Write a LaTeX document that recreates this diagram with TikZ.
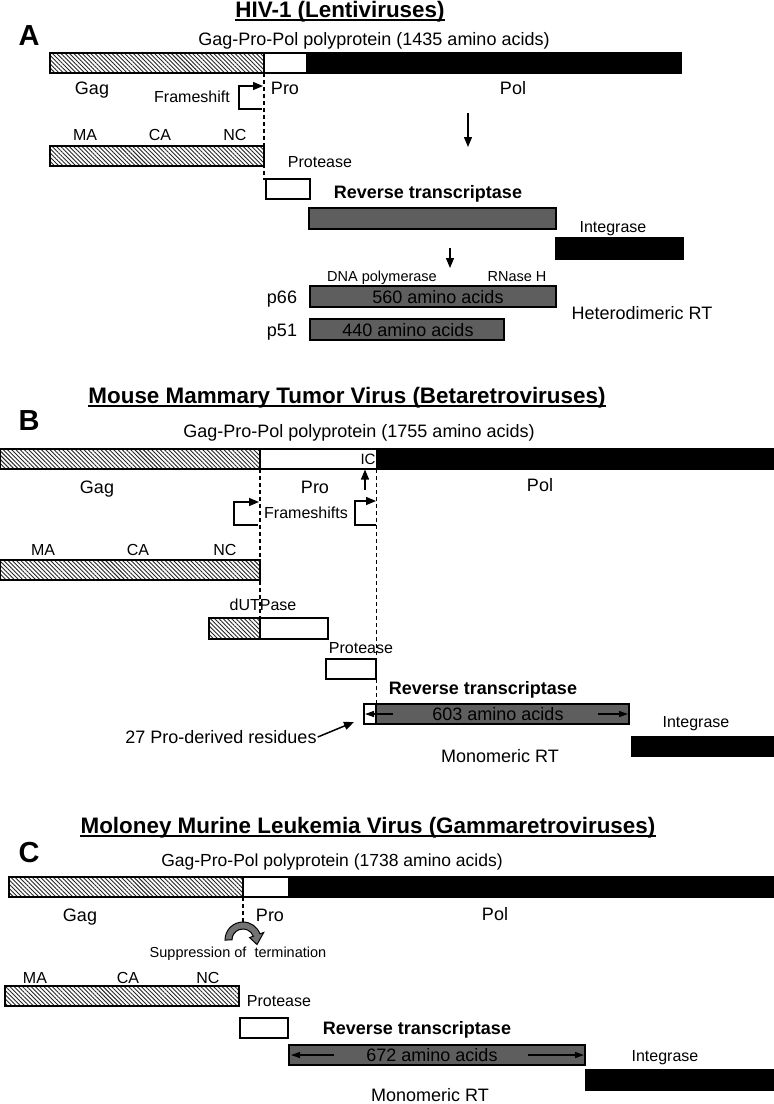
\documentclass[tikz,border=0pt]{standalone}
\usepackage{fontspec}
\setmainfont{Liberation Sans}
\usetikzlibrary{arrows.meta,patterns.meta,calc}
\begin{document}
\begin{tikzpicture}[x=1pt,y=-1pt,
  t/.style={inner sep=0pt, text height=12.9pt, text depth=0pt, font=\fontsize{18}{20}\selectfont},
  tsub/.style={inner sep=0pt, text height=12.5pt, text depth=0pt, font=\fontsize{17.5}{20}\selectfont},
  ts/.style={inner sep=0pt, text height=11.5pt, text depth=0pt, font=\fontsize{16}{18}\selectfont},
  txs/.style={inner sep=0pt, text height=10.4pt, text depth=0pt, font=\fontsize{14.5}{16}\selectfont},
  tic/.style={inner sep=0pt, text height=10.7pt, text depth=0pt, font=\fontsize{15}{16}\selectfont},
  tb/.style={inner sep=0pt, text height=12.9pt, text depth=0pt, font=\bfseries\fontsize{18}{20}\selectfont},
  ttl/.style={inner sep=0pt, text height=16pt, text depth=0pt, font=\bfseries\fontsize{22.4}{24}\selectfont},
  pnl/.style={inner sep=0pt, text height=20.8pt, text depth=0pt, font=\bfseries\fontsize{29}{30}\selectfont},
  uline/.style={line width=1.8pt},
  hatch/.style={draw=black, line width=1.3pt, pattern={Lines[angle=-45,distance=3pt,line width=0.9pt]}, pattern color=black!85},
  wbox/.style={draw=black, line width=1.3pt, fill=white},
  bbox/.style={draw=black, line width=1.3pt, fill=black},
  gbox/.style={draw=black, line width=1.3pt, fill=black!63},
  dsh/.style={line width=1.2pt, dash pattern=on 4pt off 3pt},
  dar/.style={line width=1.3pt, -{Triangle[length=10pt,width=8pt]}},
  brk/.style={line width=1.3pt, -{Triangle[length=10pt,width=8pt]}},
  inar/.style={line width=1.3pt, -{Triangle[length=9pt,width=6pt]}},
  curv/.style={draw=black, line width=1pt, fill=black!55}
]
\useasboundingbox[fill=white] (0,0) rectangle (774,1104);

% ================= Panel A =================
\node[pnl] (lA) at (29,35) {A};
\node[ttl] (tA) at (340,9.5) {HIV-1 (Lentiviruses)};
\draw[uline] ($(tA.south west)+(0,2.5)$) -- ($(tA.south east)+(0,2.5)$);
\node[t] (sA) at (374,39) {Gag-Pro-Pol polyprotein (1435 amino acids)};
\draw[hatch] (50,53) rectangle (264,73);
\draw[wbox] (264,53) rectangle (307,73);
\draw[bbox] (307,53) rectangle (681,73);
\node[t] (gagA) at (92,88) {Gag};
\node[t] (proA) at (285,88) {Pro};
\node[t] (polA) at (513,88) {Pol};
\node[ts] (fsA) at (192,97) {Frameshift};
\coordinate (fa1) at (262,109);
\coordinate (fa2) at (239,109);
\coordinate (fa3) at (239,86);
\coordinate (fa4) at (263,86);
\draw[brk] (fa1) -- (fa2) -- (fa3) -- (fa4);
\draw[dsh] (264,73) -- (264,180);
\coordinate (da1) at (468,113);
\coordinate (da2) at (468,147);
\draw[dar] (da1) -- (da2);
\node[ts] (maA) at (85,135) {MA};
\node[ts] (caA) at (160,135) {CA};
\node[ts] (ncA) at (235,135) {NC};
\draw[hatch] (50,146) rectangle (264,166);
\node[ts] (prtA) at (320,162) {Protease};
\draw[wbox] (266,179) rectangle (310,199);
\node[tb] (rtA) at (428,192) {Reverse transcriptase};
\draw[gbox] (309,208) rectangle (556,229);
\node[ts] (inA) at (613,227) {Integrase};
\draw[bbox] (556,238) rectangle (683,259);
\coordinate (db1) at (450,248);
\coordinate (db2) at (450,268);
\draw[dar] (db1) -- (db2);
\node[txs] (dnaA) at (382,276) {DNA polymerase};
\node[txs] (rnA) at (517,276) {RNase H};
\node[t] (p66) at (282,297) {p66};
\draw[gbox] (310,286) rectangle (556,307);
\node[t] (aa560) at (438,297) {560 amino acids};
\node[t] (p51) at (282,330) {p51};
\draw[gbox] (310,319) rectangle (504,340);
\node[t] (aa440) at (408,330) {440 amino acids};
\node[t] (hetA) at (642,313) {Heterodimeric RT};

% ================= Panel B =================
\node[pnl] (lB) at (29,420) {B};
\node[ttl] (tB) at (347,395) {Mouse Mammary Tumor Virus (Betaretroviruses)};
\draw[uline] ($(tB.south west)+(0,2.5)$) -- ($(tB.south east)+(0,2.5)$);
\node[t] (sB) at (359,431) {Gag-Pro-Pol polyprotein (1755 amino acids)};
\draw[hatch] (0,449) rectangle (260,469);
\draw[wbox] (260,449) rectangle (377,469);
\draw[bbox] (377,449) rectangle (774,469);
\node[tic] (icB) at (368,459) {IC};
\node[t] (gagB) at (97,487) {Gag};
\node[t] (proB) at (315,487) {Pro};
\node[t] (polB) at (540,485) {Pol};
\coordinate (ua1) at (365,490);
\coordinate (ua2) at (365,469.5);
\draw[dar] (ua1) -- (ua2);
\coordinate (fb1) at (258,525);
\coordinate (fb2) at (234,525);
\coordinate (fb3) at (234,502);
\coordinate (fb4) at (259,502);
\draw[brk] (fb1) -- (fb2) -- (fb3) -- (fb4);
\coordinate (fc1) at (376,525);
\coordinate (fc2) at (355,525);
\coordinate (fc3) at (355,501);
\coordinate (fc4) at (376,501);
\draw[brk] (fc1) -- (fc2) -- (fc3) -- (fc4);
\node[ts] (fsB) at (306,513) {Frameshifts};
\node[ts] (maB) at (43,550) {MA};
\node[ts] (caB) at (138,550) {CA};
\node[ts] (ncB) at (225,550) {NC};
\draw[hatch] (0,560) rectangle (260,580);
\node[ts] (duB) at (263,605) {dUTPase};
\draw[hatch] (209,618) rectangle (260,639);
\draw[wbox] (260,618) rectangle (328,639);
\node[ts] (prtB) at (361,648) {Protease};
\draw[wbox] (326,659) rectangle (376,679);
\draw[dsh] (260,469) -- (260,618);
\draw[dsh] (376.5,469) -- (376.5,704);
\node[tb] (rtB) at (483,688) {Reverse transcriptase};
\draw[wbox] (364,704) rectangle (376,724);
\draw[gbox] (376,704) rectangle (629,724);
\node[t] (aa603) at (498,714) {603 amino acids};
\coordinate (ra1) at (393,714);
\coordinate (ra2) at (365,714);
\draw[inar] (ra1) -- (ra2);
\coordinate (rb1) at (598,714);
\coordinate (rb2) at (628,714);
\draw[inar] (rb1) -- (rb2);
\node[t] (res27) at (221,737) {27 Pro-derived residues};
\coordinate (pt27) at (354,722);
\draw[line width=1.5pt, -{Triangle[length=10pt,width=8pt]}] ($(res27.east)+(1,0)$) -- (pt27);
\node[ts] (inB) at (696,722) {Integrase};
\draw[bbox] (632,737) rectangle (774,756);
\node[t] (monB) at (500,756) {Monomeric RT};

% ================= Panel C =================
\node[pnl] (lC) at (29,852) {C};
\node[ttl] (tC) at (368,825) {Moloney Murine Leukemia Virus (Gammaretroviruses)};
\draw[uline] ($(tC.south west)+(0,2.5)$) -- ($(tC.south east)+(0,2.5)$);
\node[tsub] (sC) at (332,860) {Gag-Pro-Pol polyprotein (1738 amino acids)};
\draw[hatch] (9,877) rectangle (243,897);
\draw[wbox] (243,877) rectangle (289,897);
\draw[bbox] (289,877) rectangle (774,897);
\node[t] (gagC) at (80,915) {Gag};
\node[t] (proC) at (270,915) {Pro};
\node[t] (polC) at (495,914) {Pol};
\draw[dsh] (243,897) -- (243,922);
\coordinate (cc) at (243,940);
\draw[curv] ($(cc)+(180:18)$) arc[start angle=180,end angle=340,radius=18]
   -- (263.7,932.5) -- (257,944.5) -- (249.6,937.6) -- (253.3,936.2)
   arc[start angle=340,end angle=180,radius=11] -- cycle;
\node[txs] (supC) at (238,952) {Suppression of\ \ termination};
\node[ts] (maC) at (35,978) {MA};
\node[ts] (caC) at (128,978) {CA};
\node[ts] (ncC) at (208,978) {NC};
\draw[hatch] (5,986) rectangle (239,1006);
\node[ts] (prtC) at (279,1001) {Protease};
\draw[wbox] (240,1018) rectangle (288,1038);
\node[tb] (rtC) at (417,1028) {Reverse transcriptase};
\draw[gbox] (289,1045) rectangle (585,1065);
\node[t] (aa672) at (432,1055) {672 amino acids};
\coordinate (rc1) at (334,1055);
\coordinate (rc2) at (291,1055);
\draw[inar] (rc1) -- (rc2);
\coordinate (rd1) at (528,1055);
\coordinate (rd2) at (584,1055);
\draw[inar] (rd1) -- (rd2);
\node[ts] (inC) at (665,1056) {Integrase};
\draw[bbox] (586,1070) rectangle (774,1090);
\node[t] (monC) at (430,1095) {Monomeric RT};
\end{tikzpicture}
\end{document}
